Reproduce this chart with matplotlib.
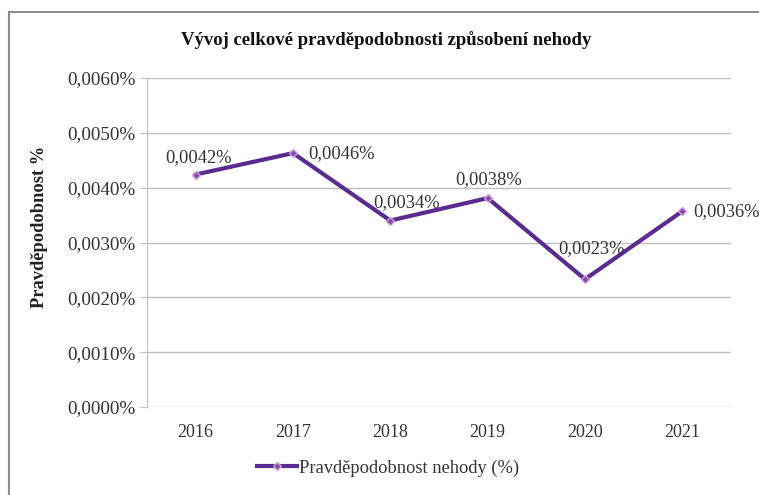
import matplotlib
matplotlib.use("Agg")
import matplotlib.pyplot as plt
from matplotlib.patches import Rectangle
from matplotlib.ticker import FuncFormatter

years = ["2016", "2017", "2018", "2019", "2020", "2021"]
values = [0.00424, 0.00463, 0.00340, 0.00381, 0.00233, 0.00357]
yticks = [0.0, 0.001, 0.002, 0.003, 0.004, 0.005, 0.006]

title = "Vývoj celkové pravděpodobnosti způsobení nehody"
ylabel = "Pravděpodobnost %"
series_name = "Pravděpodobnost nehody (%)"

plt.rcParams['font.family'] = ['Liberation Serif', 'DejaVu Serif']

W, H = 759, 495
fig = plt.figure(figsize=(W / 100, H / 100), dpi=100)
fig.patch.set_facecolor('white')

# outer chart frame (right and bottom edges lie outside the picture)
fig.patches.append(Rectangle((9 / W, -0.05), 1.2, 1.05 - 12 / H,
                             transform=fig.transFigure, fill=False,
                             edgecolor='#8c8c8c', linewidth=1.5))

ax = fig.add_axes([147 / W, 1 - 407 / H, (731 - 147) / W, (407 - 78) / H])

line_color = '#5b2c8f'
x = list(range(len(years)))
ax.plot(x, values, color=line_color, linewidth=3, marker='D', markersize=4,
        markerfacecolor='#8a4bb0', markeredgecolor='#c9a0d8', zorder=3,
        label=series_name)

ax.set_xlim(-0.5, len(years) - 0.5)
ax.set_ylim(0, 0.006)
ax.set_yticks(yticks)
ax.yaxis.set_major_formatter(FuncFormatter(lambda v, p: f"{v:.4f}".replace('.', ',') + '%'))
ax.set_xticks(x)
ax.set_xticklabels(years)

ax.grid(axis='y', color='#bfbfbf', linewidth=1)
ax.set_axisbelow(True)
for s in ['top', 'right', 'bottom']:
    ax.spines[s].set_visible(False)
ax.spines['left'].set_color('#bfbfbf')
ax.tick_params(axis='y', length=5, color='#bfbfbf', labelsize=13.8, labelcolor='#333333', pad=3)
ax.tick_params(axis='x', length=0, labelsize=13, labelcolor='#333333', pad=12)

# data labels (offsets in points)
offsets = [(2, 12, 'center', 'center'), (11, 0, 'left', 'center'),
           (12, 13, 'center', 'center'), (1, 13, 'center', 'center'),
           (5, 22, 'center', 'center'), (8, 0, 'left', 'center')]
for xi, v, (dx, dy, ha, va) in zip(x, values, offsets):
    ax.annotate(f"{v:.4f}".replace('.', ',') + '%', (xi, v), xytext=(dx, dy),
                textcoords='offset points', ha=ha, va=va, fontsize=13.3,
                color='#333333', zorder=4, annotation_clip=False)

fig.text(40 / W, 1 - 227 / H, ylabel, rotation=90, ha='center', va='center',
         fontsize=13.3, fontweight='bold', color='#222222')

fig.text(386 / W, 1 - 40 / H, title, ha='center', va='center', fontsize=13.5,
         fontweight='bold', color='#111111')

leg = fig.legend(loc='center', bbox_to_anchor=(388 / W, 1 - 468 / H), frameon=False,
                 fontsize=13.3, handlelength=2.2, handletextpad=0.1,
                 bbox_transform=fig.transFigure)
for t in leg.get_texts():
    t.set_color('#333333')

fig.savefig('out.png', dpi=100, facecolor='white')
